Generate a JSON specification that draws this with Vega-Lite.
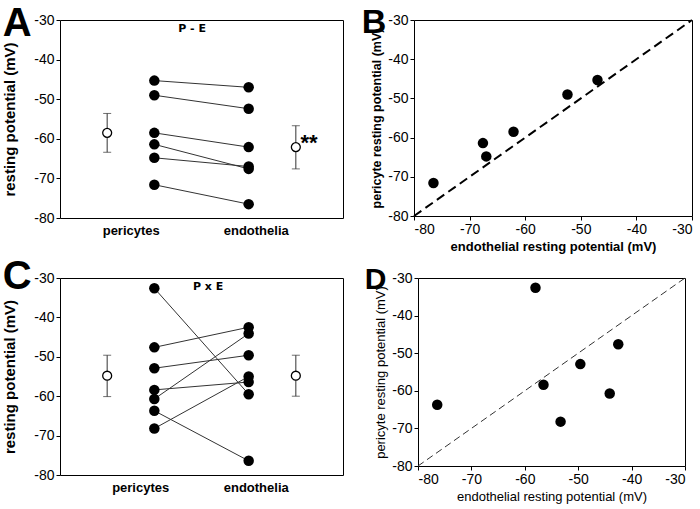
{
  "$schema": "https://vega.github.io/schema/vega-lite/v6.json",
  "background": "white",
  "padding": {"left": 2, "top": 3, "right": 5, "bottom": 2},
  "config": {
    "font": "Liberation Sans",
    "view": {"stroke": "black", "strokeWidth": 1},
    "axis": {"grid": false, "domain": false, "labelFontSize": 14, "labelColor": "black", "tickColor": "black", "tickSize": 4, "titleColor": "black", "labelPadding": 2, "labelOverlap": false, "labelExpr": "replace(datum.label, '\u2212', '-')"},
    "title": {"fontSize": 40, "fontWeight": "bold", "anchor": "start", "frame": "bounds", "offset": -28, "color": "black"}
  },
  "datasets": {
    "pairsA": [
      {"id": 1, "pos": 2, "v": -45.3}, {"id": 1, "pos": 4, "v": -47.0},
      {"id": 2, "pos": 2, "v": -49.0}, {"id": 2, "pos": 4, "v": -52.4},
      {"id": 3, "pos": 2, "v": -58.5}, {"id": 3, "pos": 4, "v": -62.1},
      {"id": 4, "pos": 2, "v": -61.4}, {"id": 4, "pos": 4, "v": -67.6},
      {"id": 5, "pos": 2, "v": -64.8}, {"id": 5, "pos": 4, "v": -67.0},
      {"id": 6, "pos": 2, "v": -71.6}, {"id": 6, "pos": 4, "v": -76.5}
    ],
    "meansA": [
      {"pos": 1, "mean": -58.5, "lo": -63.4, "hi": -53.6},
      {"pos": 5, "mean": -62.1, "lo": -67.6, "hi": -56.7}
    ],
    "scatterB": [
      {"endo": -47.0, "peri": -45.3}, {"endo": -52.4, "peri": -49.0},
      {"endo": -62.1, "peri": -58.5}, {"endo": -67.6, "peri": -61.4},
      {"endo": -67.0, "peri": -64.8}, {"endo": -76.5, "peri": -71.6}
    ],
    "pairsC": [
      {"id": 1, "pos": 2, "v": -32.6}, {"id": 1, "pos": 4, "v": -59.5},
      {"id": 2, "pos": 2, "v": -47.6}, {"id": 2, "pos": 4, "v": -42.5},
      {"id": 3, "pos": 2, "v": -52.9}, {"id": 3, "pos": 4, "v": -49.6},
      {"id": 4, "pos": 2, "v": -58.4}, {"id": 4, "pos": 4, "v": -56.4},
      {"id": 5, "pos": 2, "v": -60.7}, {"id": 5, "pos": 4, "v": -44.1},
      {"id": 6, "pos": 2, "v": -63.7}, {"id": 6, "pos": 4, "v": -76.4},
      {"id": 7, "pos": 2, "v": -68.2}, {"id": 7, "pos": 4, "v": -55.0}
    ],
    "meansC": [
      {"pos": 1, "mean": -54.8, "lo": -60.1, "hi": -49.6},
      {"pos": 5, "mean": -54.8, "lo": -60.0, "hi": -49.6}
    ],
    "scatterD": [
      {"endo": -58.0, "peri": -32.6}, {"endo": -42.5, "peri": -47.6},
      {"endo": -49.6, "peri": -52.9}, {"endo": -56.5, "peri": -58.4},
      {"endo": -44.1, "peri": -60.7}, {"endo": -76.4, "peri": -63.7},
      {"endo": -53.3, "peri": -68.2}
    ],
    "diag": [{"d": -80}, {"d": -30}],
    "labelA": [{"x": 2.8, "y": -32.3, "t": "P - E"}],
    "starA": [{"x": 5.1, "y": -61.0, "t": "**"}],
    "labelC": [{"x": 3.14, "y": -32.3, "t": "P x E"}]
  },
  "vconcat": [
    {
      "spacing": 17,
      "hconcat": [
        {
          "title": {"text": "A", "offset": -31},
          "width": 283, "height": 198,
          "layer": [
            {
              "data": {"name": "meansA"},
              "mark": {"type": "rule", "color": "#333", "strokeWidth": 1},
              "encoding": {
                "x": {"field": "pos", "type": "quantitative", "scale": {"domain": [0, 6]},
                      "axis": {"values": [1.5, 4.15], "tickCount": 10, "labelExpr": "datum.value < 3 ? 'pericytes' : 'endothelia'", "ticks": false, "title": null, "labelFontWeight": "bold", "labelFontSize": 13, "labelPadding": 6}},
                "y": {"field": "lo", "type": "quantitative", "scale": {"domain": [-80, -30]},
                      "axis": {"values": [-80, -70, -60, -50, -40, -30], "tickCount": 10, "labelOverlap": false, "title": "resting potential (mV)", "titleFontSize": 15, "titleFontWeight": "bold", "titlePadding": 16}},
                "y2": {"field": "hi"}
              }
            },
            {
              "data": {"name": "meansA"},
              "mark": {"type": "tick", "orient": "horizontal", "size": 8, "thickness": 1, "color": "#333"},
              "encoding": {"x": {"field": "pos", "type": "quantitative"}, "y": {"field": "lo", "type": "quantitative"}}
            },
            {
              "data": {"name": "meansA"},
              "mark": {"type": "tick", "orient": "horizontal", "size": 8, "thickness": 1, "color": "#333"},
              "encoding": {"x": {"field": "pos", "type": "quantitative"}, "y": {"field": "hi", "type": "quantitative"}}
            },
            {
              "data": {"name": "pairsA"},
              "mark": {"type": "line", "color": "#333", "strokeWidth": 1},
              "encoding": {"x": {"field": "pos", "type": "quantitative"}, "y": {"field": "v", "type": "quantitative"}, "detail": {"field": "id"}}
            },
            {
              "data": {"name": "pairsA"},
              "mark": {"type": "point", "filled": true, "color": "black", "size": 110, "opacity": 1},
              "encoding": {"x": {"field": "pos", "type": "quantitative"}, "y": {"field": "v", "type": "quantitative"}}
            },
            {
              "data": {"name": "meansA"},
              "mark": {"type": "point", "filled": true, "fill": "white", "stroke": "black", "strokeWidth": 1.3, "size": 80, "opacity": 1},
              "encoding": {"x": {"field": "pos", "type": "quantitative"}, "y": {"field": "mean", "type": "quantitative"}}
            },
            {
              "data": {"name": "labelA"},
              "mark": {"type": "text", "fontSize": 11, "fontWeight": "bold", "color": "black", "font": "DejaVu Sans"},
              "encoding": {"x": {"field": "x", "type": "quantitative"}, "y": {"field": "y", "type": "quantitative"}, "text": {"field": "t"}}
            },
            {
              "data": {"name": "starA"},
              "mark": {"type": "text", "fontSize": 22, "fontWeight": "bold", "color": "black", "align": "left", "baseline": "middle"},
              "encoding": {"x": {"field": "x", "type": "quantitative"}, "y": {"field": "y", "type": "quantitative"}, "text": {"field": "t"}}
            }
          ]
        },
        {
          "title": {"text": "B", "dx": -9, "fontSize": 34, "offset": -27},
          "width": 278, "height": 196,
          "layer": [
            {
              "data": {"name": "diag"},
              "mark": {"type": "line", "color": "black", "strokeWidth": 2, "strokeDash": [9, 5]},
              "encoding": {
                "x": {"field": "d", "type": "quantitative", "scale": {"domain": [-80, -30]},
                      "axis": {"values": [-80, -70, -60, -50, -40, -30], "tickCount": 10, "labelOverlap": false, "title": "endothelial resting potential (mV)", "titleFontSize": 13, "titleFontWeight": "bold", "titlePadding": 4}},
                "y": {"field": "d", "type": "quantitative", "scale": {"domain": [-80, -30]},
                      "axis": {"values": [-80, -70, -60, -50, -40, -30], "tickCount": 10, "labelOverlap": false, "title": "pericyte resting potential (mV)", "titleFontSize": 12.5, "titleFontWeight": "bold", "titlePadding": 4}}
              }
            },
            {
              "data": {"name": "scatterB"},
              "mark": {"type": "point", "filled": true, "color": "black", "size": 110, "opacity": 1},
              "encoding": {"x": {"field": "endo", "type": "quantitative"}, "y": {"field": "peri", "type": "quantitative"}}
            }
          ]
        }
      ]
    },
    {
      "spacing": 20,
      "hconcat": [
        {
          "title": {"text": "C", "offset": -26},
          "width": 283, "height": 197,
          "layer": [
            {
              "data": {"name": "meansC"},
              "mark": {"type": "rule", "color": "#333", "strokeWidth": 1},
              "encoding": {
                "x": {"field": "pos", "type": "quantitative", "scale": {"domain": [0, 6]},
                      "axis": {"values": [1.7, 4.15], "tickCount": 10, "labelExpr": "datum.value < 3 ? 'pericytes' : 'endothelia'", "ticks": false, "title": null, "labelFontWeight": "bold", "labelFontSize": 13, "labelPadding": 6}},
                "y": {"field": "lo", "type": "quantitative", "scale": {"domain": [-80, -30]},
                      "axis": {"values": [-80, -70, -60, -50, -40, -30], "tickCount": 10, "labelOverlap": false, "title": "resting potential (mV)", "titleFontSize": 15, "titleFontWeight": "bold", "titlePadding": 16}},
                "y2": {"field": "hi"}
              }
            },
            {
              "data": {"name": "meansC"},
              "mark": {"type": "tick", "orient": "horizontal", "size": 8, "thickness": 1, "color": "#333"},
              "encoding": {"x": {"field": "pos", "type": "quantitative"}, "y": {"field": "lo", "type": "quantitative"}}
            },
            {
              "data": {"name": "meansC"},
              "mark": {"type": "tick", "orient": "horizontal", "size": 8, "thickness": 1, "color": "#333"},
              "encoding": {"x": {"field": "pos", "type": "quantitative"}, "y": {"field": "hi", "type": "quantitative"}}
            },
            {
              "data": {"name": "pairsC"},
              "mark": {"type": "line", "color": "#333", "strokeWidth": 1},
              "encoding": {"x": {"field": "pos", "type": "quantitative"}, "y": {"field": "v", "type": "quantitative"}, "detail": {"field": "id"}}
            },
            {
              "data": {"name": "pairsC"},
              "mark": {"type": "point", "filled": true, "color": "black", "size": 110, "opacity": 1},
              "encoding": {"x": {"field": "pos", "type": "quantitative"}, "y": {"field": "v", "type": "quantitative"}}
            },
            {
              "data": {"name": "meansC"},
              "mark": {"type": "point", "filled": true, "fill": "white", "stroke": "black", "strokeWidth": 1.3, "size": 80, "opacity": 1},
              "encoding": {"x": {"field": "pos", "type": "quantitative"}, "y": {"field": "mean", "type": "quantitative"}}
            },
            {
              "data": {"name": "labelC"},
              "mark": {"type": "text", "fontSize": 11, "fontWeight": "bold", "color": "black", "font": "DejaVu Sans"},
              "encoding": {"x": {"field": "x", "type": "quantitative"}, "y": {"field": "y", "type": "quantitative"}, "text": {"field": "t"}}
            }
          ]
        },
        {
          "title": {"text": "D", "dx": -10, "fontSize": 30, "offset": -24},
          "width": 267, "height": 188,
          "layer": [
            {
              "data": {"name": "diag"},
              "mark": {"type": "line", "color": "#333", "strokeWidth": 1, "strokeDash": [7, 4]},
              "encoding": {
                "x": {"field": "d", "type": "quantitative", "scale": {"domain": [-80, -30]},
                      "axis": {"values": [-80, -70, -60, -50, -40, -30], "tickCount": 10, "labelOverlap": false, "title": "endothelial resting potential (mV)", "titleFontSize": 13, "titleFontWeight": "normal", "titlePadding": 4}},
                "y": {"field": "d", "type": "quantitative", "scale": {"domain": [-80, -30]},
                      "axis": {"values": [-80, -70, -60, -50, -40, -30], "tickCount": 10, "labelOverlap": false, "title": "pericyte resting potential (mV)", "titleFontSize": 13, "titleFontWeight": "normal", "titlePadding": 4}}
              }
            },
            {
              "data": {"name": "scatterD"},
              "mark": {"type": "point", "filled": true, "color": "black", "size": 110, "opacity": 1},
              "encoding": {"x": {"field": "endo", "type": "quantitative"}, "y": {"field": "peri", "type": "quantitative"}}
            }
          ]
        }
      ]
    }
  ],
  "spacing": 2
}
